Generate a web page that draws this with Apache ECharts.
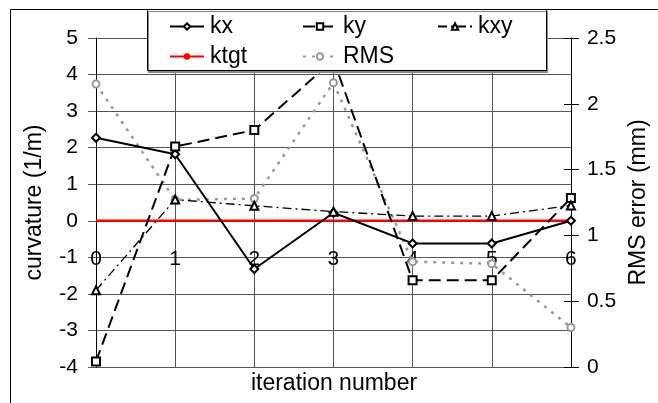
<!DOCTYPE html>
<html>
<head>
<meta charset="utf-8">
<script src="https://cdn.jsdelivr.net/npm/echarts@6/dist/echarts.min.js"></script>
<style>html,body{margin:0;padding:0;background:#fff;}#c{width:658px;height:403px;}</style>
</head>
<body>
<div id="c"></div>
<script>
var categories = ['0','1','2','3','4','5','6'];
var kx   = [2.27, 1.82, -1.32, 0.22, -0.62, -0.62, 0.0];
var ky   = [-3.85, 2.03, 2.48, 4.4, -1.63, -1.63, 0.62];
var kxy  = [-1.9, 0.58, 0.41, 0.25, 0.13, 0.13, 0.42];
var ktgt = [0, 0, 0, 0, 0, 0, 0];
var rms  = [2.15, 1.27, 1.28, 2.16, 0.8, 0.785, 0.3];
var xTitle = 'iteration number';

var FONT = 'Liberation Sans, Arial, sans-serif';
var chart = echarts.init(document.getElementById('c'));
function leg(name, left, top) {
  return {
    data: [name], left: left, top: top, z: 60,
    itemWidth: 34, itemHeight: 8, itemGap: 0, padding: 0,
    textStyle: {fontFamily: FONT, fontSize: 23, color: '#000', padding: [0, 0, 0, 1]},
    selectedMode: false
  };
}
chart.setOption({
  animation: false,
  backgroundColor: '#fff',
  grid: {left: 96, right: 86, top: 38, bottom: 36},
  graphic: [
    {type: 'rect', z: 0, shape: {x: 10.5, y: 9.5, width: 660, height: 410}, style: {fill: 'none', stroke: '#000', lineWidth: 1}},
    {type: 'rect', z: 50, shape: {x: 147.5, y: 9.5, width: 399, height: 61}, style: {fill: '#fff', stroke: '#000', lineWidth: 1, shadowColor: '#888', shadowOffsetX: 1, shadowOffsetY: 2}},
    {type: 'text', z: 10, x: 334, y: 384, style: {text: xTitle, fontFamily: FONT, fontSize: 23, fill: '#000', textAlign: 'center', textVerticalAlign: 'middle'}}
  ],
  legend: [
    leg('kx', 169, 15),
    leg('ky', 302, 15),
    leg('kxy', 437, 15),
    leg('ktgt', 169, 45),
    leg('RMS', 302, 45)
  ],
  xAxis: [{
    type: 'category', data: categories, boundaryGap: false, position: 'bottom',
    offset: -146,
    axisLine: {onZero: false, lineStyle: {color: '#000', width: 1}},
    axisTick: {show: false},
    axisLabel: {fontFamily: FONT, fontSize: 21, color: '#000', margin: 28},
    splitLine: {show: true, lineStyle: {color: '#555', width: 1}}
  }],
  yAxis: [{
    type: 'value', min: -4, max: 5, interval: 1, position: 'left',
    name: 'curvature (1/m)', nameLocation: 'middle', nameGap: 50,
    nameTextStyle: {fontFamily: FONT, fontSize: 23, color: '#000'},
    axisLine: {show: true, lineStyle: {color: '#000'}},
    axisTick: {show: true, length: 8, lineStyle: {color: '#555'}},
    axisLabel: {fontFamily: FONT, fontSize: 21, color: '#000', margin: 18},
    splitLine: {show: true, lineStyle: {color: '#555', width: 1}}
  }, {
    type: 'value', min: 0, max: 2.5, interval: 0.5, position: 'right',
    name: 'RMS error (mm)', nameLocation: 'middle', nameGap: 56,
    nameTextStyle: {fontFamily: FONT, fontSize: 23, color: '#000'},
    axisLine: {show: true, lineStyle: {color: '#000'}},
    axisTick: {show: true, length: 8, lineStyle: {color: '#000'}},
    axisLabel: {fontFamily: FONT, fontSize: 21, color: '#000', margin: 16},
    splitLine: {show: false}
  }, {
    type: 'value', min: 0, max: 2.5, interval: 0.5, position: 'right',
    axisLine: {show: false}, axisLabel: {show: false}, splitLine: {show: false},
    axisTick: {show: true, inside: true, length: 7, lineStyle: {color: '#000'}}
  }],
  series: [
    {name: 'ktgt', type: 'line', data: ktgt, showSymbol: false, symbol: 'none', z: 3,
     lineStyle: {color: '#ff0000', width: 2.5}, itemStyle: {color: '#ff0000'}},
    {name: 'kx', type: 'line', data: kx, symbol: 'emptyDiamond', symbolSize: 8, z: 5,
     lineStyle: {color: '#000', width: 2}, itemStyle: {color: '#000', borderColor: '#000', borderWidth: 1}},
    {name: 'ky', type: 'line', data: ky, symbol: 'emptyRect', symbolSize: 8, z: 5,
     lineStyle: {color: '#000', width: 2, type: [12, 6]}, itemStyle: {color: '#000', borderColor: '#000', borderWidth: 1}},
    {name: 'kxy', type: 'line', data: kxy, symbol: 'emptyTriangle', symbolSize: 8, z: 5,
     lineStyle: {color: '#000', width: 1.3, type: [9, 4, 2, 4]}, itemStyle: {color: '#000', borderColor: '#000', borderWidth: 1}},
    {name: 'RMS', type: 'line', data: rms, yAxisIndex: 1, symbol: 'emptyCircle', symbolSize: 7, z: 4,
     lineStyle: {color: '#999', width: 2.5, type: [3, 6]}, itemStyle: {color: '#999', borderColor: '#999', borderWidth: 1}}
  ]
});
</script>
</body>
</html>
